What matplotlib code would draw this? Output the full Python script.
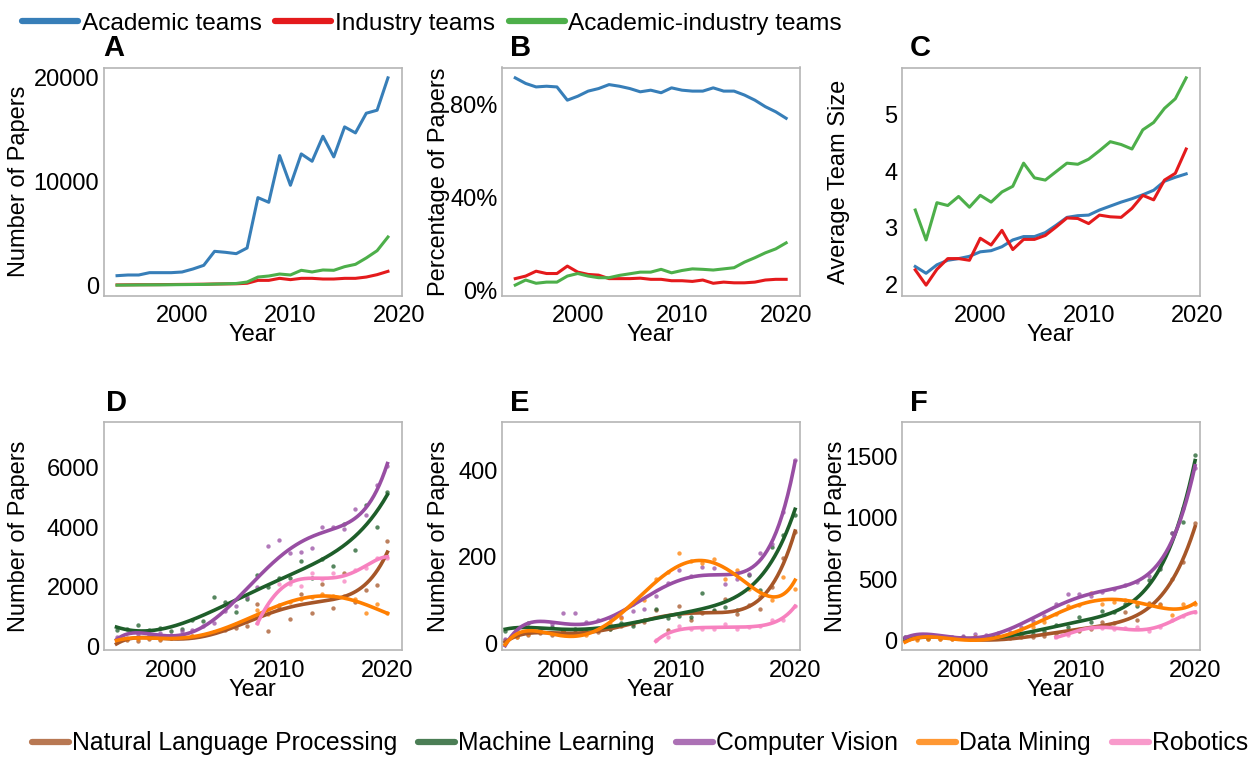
import numpy as np
import matplotlib

matplotlib.use("Agg")
import matplotlib.pyplot as plt
from matplotlib.lines import Line2D
from matplotlib.ticker import FuncFormatter
from numpy.polynomial import Polynomial


# ---- data: team types (panels A-C) ----
years_ac = list(range(1994, 2020))
years_b = list(range(1994, 2021))

academic_papers = [932, 997, 997, 1222, 1222, 1222, 1286, 1575, 1929, 3279, 3183, 3054, 3601,
                   8455, 8005, 12506, 9645, 12667, 11960, 14371, 12378, 15271, 14693, 16589,
                   16879, 19997]
industry_papers = [40, 50, 60, 60, 70, 80, 90, 100, 110, 130, 140, 150, 200,
                   480, 480, 675, 550, 675, 675, 610, 610, 675, 675, 800, 1030, 1350]
mixed_papers = [20, 30, 40, 50, 50, 60, 70, 80, 90, 120, 150, 180, 320,
                800, 900, 1090, 1000, 1450, 1290, 1480, 1450, 1800, 2025, 2640, 3340, 4660]

academic_pct = [91.3, 88.9, 87.4, 87.7, 87.4, 81.7, 83.4, 85.6, 86.7, 88.4, 87.7, 86.7, 85.3,
                86.0, 84.9, 87.0, 86.0, 85.6, 85.6, 87.0, 85.6, 85.6, 83.9, 81.7, 78.9, 76.7, 73.9]
industry_pct = [4.9, 6.0, 8.1, 7.1, 7.1, 10.3, 7.7, 6.7, 6.4, 4.9, 4.9, 4.9, 5.1, 4.6, 4.6,
                4.0, 4.0, 3.7, 4.3, 2.9, 3.4, 3.1, 3.1, 3.4, 4.3, 4.6, 4.6]
mixed_pct = [2.1, 4.3, 2.9, 3.4, 3.4, 6.0, 7.1, 6.0, 5.3, 5.3, 6.3, 7.0, 7.7, 7.7, 8.9,
             7.4, 8.4, 9.1, 8.9, 8.6, 9.1, 9.6, 12.0, 13.9, 16.0, 17.7, 20.3]

academic_size = [2.31, 2.19, 2.34, 2.42, 2.45, 2.49, 2.57, 2.59, 2.66, 2.78, 2.84, 2.84, 2.91,
                 3.04, 3.18, 3.21, 3.22, 3.31, 3.38, 3.45, 3.51, 3.58, 3.66, 3.82, 3.89, 3.95]
industry_size = [2.25, 1.98, 2.26, 2.45, 2.45, 2.42, 2.81, 2.69, 2.95, 2.61, 2.79, 2.79, 2.86,
                 3.01, 3.17, 3.16, 3.07, 3.22, 3.19, 3.18, 3.34, 3.57, 3.49, 3.84, 3.96, 4.39]
mixed_size = [3.31, 2.78, 3.44, 3.39, 3.55, 3.36, 3.57, 3.45, 3.63, 3.73, 4.14, 3.88, 3.84,
              3.99, 4.14, 4.12, 4.21, 4.36, 4.52, 4.47, 4.39, 4.73, 4.86, 5.11, 5.28, 5.65]

# ---- data: research fields (panels D-F) ----
years_df = list(range(1995, 2021))
years_rob = list(range(2008, 2021))

d_nlp = [180, 220, 200, 260, 240, 300, 310, 350, 380, 480, 560, 640, 700, 1440, 530, 1300,
         910, 1755, 1110, 2090, 1310, 2450, 1480, 1900, 2070, 3530]
d_ml = [560, 590, 710, 560, 640, 520, 600, 890, 855, 1645, 1510, 1165, 1580, 2390, 2000, 2300,
        2280, 2870, 2300, 2915, 2700, 4100, 3230, 4730, 4010, 5180]
d_cv = [330, 300, 420, 380, 450, 400, 520, 560, 700, 800, 1200, 1350, 1650, 2000, 3380, 3560,
        3120, 3170, 3290, 4010, 3990, 3920, 4590, 4400, 5400, 6040]
d_dm = [240, 250, 260, 280, 270, 300, 320, 350, 400, 500, 600, 750, 850, 1220, 1100, 1400,
        1500, 1600, 1650, 1750, 1680, 1700, 1600, 1110, 1420, 1110]
d_rob = [800, 1300, 2090, 2100, 2020, 2450, 2250, 2470, 2200, 2560, 2640, 2980, 2980]

e_nlp = [8, 15, 20, 25, 20, 30, 28, 30, 28, 35, 40, 45, 50, 78, 32, 86, 55, 70, 75, 104, 69,
         90, 81, 130, 198, 258]
e_ml = [30, 35, 48, 35, 38, 30, 35, 28, 32, 35, 48, 40, 55, 81, 60, 65, 62, 117, 78, 85, 78,
        158, 123, 223, 250, 296]
e_cv = [12, 22, 30, 35, 45, 71, 71, 50, 55, 60, 62, 75, 80, 110, 140, 170, 155, 177, 175, 138,
        150, 160, 209, 230, 304, 423]
e_dm = [5, 15, 22, 28, 25, 30, 22, 20, 35, 45, 60, 92, 100, 150, 165, 208, 190, 185, 195, 150,
        170, 125, 110, 100, 154, 127]
e_rob = [8, 15, 42, 35, 35, 33, 46, 35, 38, 40, 54, 55, 88]

f_nlp = [10, 12, 15, 12, 15, 18, 15, 20, 18, 20, 25, 27, 40, 50, 60, 75, 95, 150, 145, 232,
         164, 308, 300, 505, 640, 955]
f_ml = [30, 25, 20, 25, 20, 25, 30, 30, 35, 40, 45, 55, 80, 123, 110, 191, 150, 237, 230, 300,
        278, 491, 586, 873, 968, 1514]
f_cv = [30, 45, 35, 25, 30, 40, 50, 45, 60, 70, 110, 160, 200, 300, 376, 376, 360, 395, 420,
        450, 480, 530, 600, 873, 1077, 1404]
f_dm = [5, 8, 10, 12, 15, 20, 25, 30, 35, 40, 60, 110, 150, 218, 278, 290, 387, 300, 314, 330,
        300, 300, 290, 210, 295, 300]
f_rob = [27, 46, 95, 100, 104, 90, 100, 109, 74, 110, 170, 200, 232]

team_labels = ["Academic teams", "Industry teams", "Academic-industry teams"]
team_colors = ["#377eb8", "#e41a1c", "#4daf4a"]
field_labels = ["Natural Language Processing", "Machine Learning", "Computer Vision",
                "Data Mining", "Robotics"]
field_colors = ["#a65628", "#1e5e2a", "#984ea3", "#ff7f00", "#f781bf"]

plt.rcParams["font.family"] = ["Liberation Sans", "DejaVu Sans"]
plt.rcParams["font.size"] = 17

FIG_W, FIG_H = 1252, 757
col_left = [103.5, 501.7, 901.7]
row_top = [67.5, 422.3]
AX_W, AX_H = 298, 228


def make_axes(fig, row, col):
    left = col_left[col] / FIG_W
    bottom = 1 - (row_top[row] + AX_H) / FIG_H
    ax = fig.add_axes([left, bottom, AX_W / FIG_W, AX_H / FIG_H])
    for spine in ax.spines.values():
        spine.set_color("#b5b5b5")
        spine.set_linewidth(1.2)
    ax.tick_params(axis="both", length=0)
    ax.tick_params(axis="x", pad=7)
    ax.tick_params(axis="y", pad=3)
    ax.set_xticks([2000, 2010, 2020])
    ax.set_xlabel("Year", labelpad=-2)
    return ax


def panel_letter(ax, letter, x):
    ax.text(x, 1.025, letter, transform=ax.transAxes, fontsize=21, fontweight="bold",
            ha="left", va="bottom")


def fit_curve(ax, xs, ys, color):
    poly = Polynomial.fit(xs, ys, 5)
    grid = np.linspace(min(xs), max(xs), 200)
    ax.scatter(xs, ys, s=10, color=color, alpha=0.75, linewidths=0, zorder=2)
    ax.plot(grid, poly(grid), color=color, lw=2.6, zorder=3)


fig = plt.figure(figsize=(FIG_W / 100, FIG_H / 100), dpi=100)

# A: number of papers
ax_a = make_axes(fig, 0, 0)
for series, color in zip([academic_papers, industry_papers, mixed_papers], team_colors):
    ax_a.plot(years_ac, series, color=color, lw=2.2)
ax_a.set_yticks([0, 10000, 20000])
ax_a.set_ylabel("Number of Papers")
ax_a.yaxis.set_label_coords(-0.245, 0.5)
panel_letter(ax_a, "A", 0.0)

# B: share of papers
ax_b = make_axes(fig, 0, 1)
for series, color in zip([academic_pct, industry_pct, mixed_pct], team_colors):
    ax_b.plot(years_b, series, color=color, lw=2.2)
ax_b.set_yticks([0, 40, 80])
ax_b.yaxis.set_major_formatter(FuncFormatter(lambda v, _: f"{v:.0f}%"))
ax_b.set_ylabel("Percentage of Papers")
ax_b.yaxis.set_label_coords(-0.172, 0.5)
panel_letter(ax_b, "B", 0.027)

# C: team size
ax_c = make_axes(fig, 0, 2)
for series, color in zip([academic_size, industry_size, mixed_size], team_colors):
    ax_c.plot(years_ac, series, color=color, lw=2.2)
ax_c.set_yticks([2, 3, 4, 5])
ax_c.set_ylabel("Average Team Size")
ax_c.yaxis.set_label_coords(-0.172, 0.5)
panel_letter(ax_c, "C", 0.027)

# D-F: fields
field_panels = [
    ("D", [d_nlp, d_ml, d_cv, d_dm], d_rob, (-120, 7500), [0, 2000, 4000, 6000], (1993.8, 2021.3), 0.007, -0.245),
    ("E", [e_nlp, e_ml, e_cv, e_dm], e_rob, (-15, 510), [0, 200, 400], (1994.7, 2020.4), 0.027, -0.172),
    ("F", [f_nlp, f_ml, f_cv, f_dm], f_rob, (-80, 1780), [0, 500, 1000, 1500], (1994.7, 2020.4), 0.027, -0.185),
]
for col, (letter, main_series, rob_series, ylim, yticks, xlim, lx, ylab_x) in enumerate(field_panels):
    ax = make_axes(fig, 1, col)
    for series, color in zip(main_series, field_colors[:4]):
        fit_curve(ax, years_df, series, color)
    fit_curve(ax, years_rob, rob_series, field_colors[4])
    ax.set_ylim(*ylim)
    ax.set_xlim(*xlim)
    ax.set_yticks(yticks)
    ax.set_ylabel("Number of Papers")
    ax.yaxis.set_label_coords(ylab_x, 0.5)
    panel_letter(ax, letter, lx)

team_handles = [Line2D([], [], color=c, lw=4.5, solid_capstyle="round") for c in team_colors]
fig.legend(team_handles, team_labels, loc="upper left", bbox_to_anchor=(0.0, 1.012),
           ncol=3, frameon=False, handlelength=2.3, handletextpad=0.15, columnspacing=0.55,
           fontsize=17.6)

field_handles = [Line2D([], [], color=c, lw=4.5, alpha=0.8, solid_capstyle="round")
                 for c in field_colors]
fig.legend(field_handles, field_labels, loc="lower left", bbox_to_anchor=(0.0256, 0.002),
           ncol=5, frameon=False, handlelength=1.5, handletextpad=0.12, columnspacing=0.85,
           borderpad=0, borderaxespad=0, fontsize=17.8)

fig.savefig("out.png", dpi=100)
